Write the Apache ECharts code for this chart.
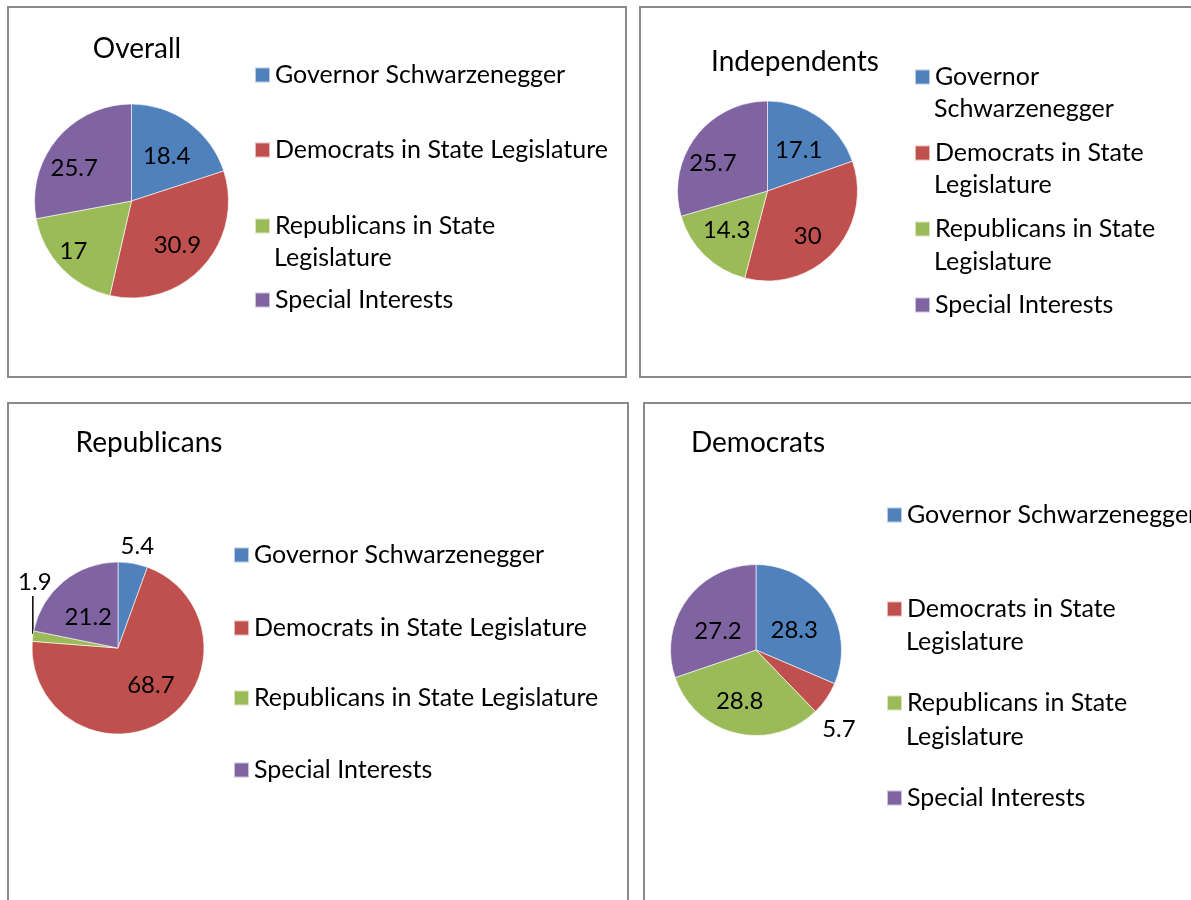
<!DOCTYPE html>
<html>
<head>
<meta charset="utf-8">
<title>Who is to blame</title>
<script src="https://cdn.jsdelivr.net/npm/echarts@6/dist/echarts.min.js"></script>
<style>
  html, body { margin: 0; padding: 0; background: #fff; }
  #main { width: 1191px; height: 900px; }
</style>
</head>
<body>
<div id="main"></div>
<script>
// chart data
var categories = ['Governor Schwarzenegger', 'Democrats in State Legislature', 'Republicans in State Legislature', 'Special Interests'];
var panelTitles = ['Overall', 'Independents', 'Republicans', 'Democrats'];
var overallValues = [18.4, 30.9, 17, 25.7];
var independentsValues = [17.1, 30, 14.3, 25.7];
var republicansValues = [5.4, 68.7, 1.9, 21.2];
var democratsValues = [28.3, 5.7, 28.8, 27.2];

// how each legend entry wraps in each panel
var overallLegendLines = [['Governor Schwarzenegger'], ['Democrats in State Legislature'], ['Republicans in State', 'Legislature'], ['Special Interests']];
var independentsLegendLines = [['Governor', 'Schwarzenegger'], ['Democrats in State', 'Legislature'], ['Republicans in State', 'Legislature'], ['Special Interests']];
var republicansLegendLines = [['Governor Schwarzenegger'], ['Democrats in State Legislature'], ['Republicans in State Legislature'], ['Special Interests']];
var democratsLegendLines = [['Governor Schwarzenegger'], ['Democrats in State', 'Legislature'], ['Republicans in State', 'Legislature'], ['Special Interests']];

var colors = ['#4F81BD', '#C0504D', '#9BBB59', '#8064A2'];
var font = 'Lato, "Open Sans", sans-serif';

// layout of the four panels (pixels); labelK = label distance as share of radius,
// labelNudge = small extra shift like Excel's "best fit"
var panels = [
  {
    values: overallValues, legend: overallLegendLines,
    box: [8, 7, 618, 370],
    title: [137, 34],
    center: [131.5, 201], radius: 97,
    labelK: [0.58, 0.63, 0.78, 0.66],
    labelNudge: [[0, 4], [-2, 0], [0, -5], [-5, 11]],
    legendX: 254, rows: [[75], [150], [226, 258], [300]]
  },
  {
    values: independentsValues, legend: independentsLegendLines,
    box: [640, 7, 600, 370],
    title: [795, 47],
    center: [767.5, 191], radius: 90,
    labelK: [0.56, 0.67, 0.61, 0.67],
    labelNudge: [[0, 3], [-7, 2], [0, -3], [-3, 11]],
    legendX: 914, rows: [[77, 109], [153, 185], [229, 262], [305]]
  },
  {
    values: republicansValues, legend: republicansLegendLines,
    box: [8, 403, 620, 600],
    title: [149, 428],
    center: [118, 648], radius: 86,
    labelK: [1.21, 0.56, 0, 0.51],
    labelNudge: [[0, 8], [5, -6], [0, 0], [0, 6]],
    lead: 2,
    legendX: 233, rows: [[555], [628], [698], [770]]
  },
  {
    values: democratsValues, legend: democratsLegendLines,
    box: [644, 403, 600, 600],
    title: [758, 428],
    center: [756, 650], radius: 85.5,
    labelK: [0.5, 1.3, 0.62, 0.51],
    labelNudge: [[0, 5], [-15, 12], [-3, -4], [0, 8]],
    legendX: 886, rows: [[515], [609, 642], [703, 737], [798]]
  }
];

var textStyle = { fontFamily: font, fontSize: 25, fontWeight: 'normal', color: '#000', lineHeight: 30 };

// moves the library's inside label along its own direction, then nudges it
function makeLabelLayout(p) {
  return function (params) {
    var i = params.dataIndex;
    if (p.lead === i && params.labelLinePoints) {
      // small slice: label sits above, with a vertical leader line
      var e = params.labelLinePoints[0];
      return {
        x: e[0] + 2, y: e[1] - 54, align: 'center', verticalAlign: 'middle',
        labelLinePoints: [[e[0], e[1] - 2], [e[0], e[1] - 40]]
      };
    }
    var r = params.labelRect;
    var lx = r.x + r.width / 2, ly = r.y + r.height / 2;
    var f = p.labelK[i] / 0.5;
    return {
      x: p.center[0] + (lx - p.center[0]) * f + p.labelNudge[i][0],
      y: p.center[1] + (ly - p.center[1]) * f + p.labelNudge[i][1],
      align: 'center', verticalAlign: 'middle'
    };
  };
}

var titles = [];
var legends = [];
var series = [];
var graphics = [];

panels.forEach(function (p, k) {
  // panel frame
  graphics.push({
    type: 'rect', z: 0, silent: true,
    shape: { x: p.box[0], y: p.box[1], width: p.box[2], height: p.box[3] },
    style: { fill: 'none', stroke: '#8a8a8a', lineWidth: 2 }
  });

  titles.push({
    text: panelTitles[k], left: p.title[0], top: p.title[1], padding: 0,
    textAlign: 'center',
    textStyle: { fontFamily: font, fontSize: 28, fontWeight: 'normal', color: '#000', lineHeight: 30 }
  });

  // one legend per entry so the rows can be spaced like the original
  p.rows.forEach(function (row, j) {
    legends.push({
      data: [{ name: categories[j], icon: 'rect' }],
      left: p.legendX, top: row[0] - 15, padding: 0,
      itemWidth: 15, itemHeight: 15, selectedMode: false,
      formatter: p.legend[j][0],
      textStyle: textStyle
    });
    if (row.length > 1) {
      titles.push({
        text: p.legend[j][1], left: p.legendX + 20, top: row[1] - 15, padding: 0,
        textStyle: textStyle
      });
    }
  });

  series.push({
    type: 'pie',
    name: panelTitles[k],
    center: p.center,
    radius: p.radius,
    startAngle: 90,
    clockwise: true,
    avoidLabelOverlap: false,
    silent: true,
    itemStyle: { borderColor: 'rgba(255,255,255,0.6)', borderWidth: 1 },
    label: {
      show: true, position: 'inside', formatter: '{c}',
      fontFamily: font, fontSize: 24, color: '#000'
    },
    labelLine: { show: false },
    labelLayout: makeLabelLayout(p),
    data: p.values.map(function (v, j) {
      var item = { name: categories[j], value: v };
      if (p.lead === j) {
        item.label = { position: 'outside' };
        item.labelLine = { show: true, length: 10, length2: 10, lineStyle: { color: '#000', width: 1.5 } };
      }
      return item;
    })
  });
});

var myChart = echarts.init(document.getElementById('main'));
myChart.setOption({
  animation: false,
  color: colors,
  title: titles,
  legend: legends,
  graphic: graphics,
  series: series
});
</script>
</body>
</html>
